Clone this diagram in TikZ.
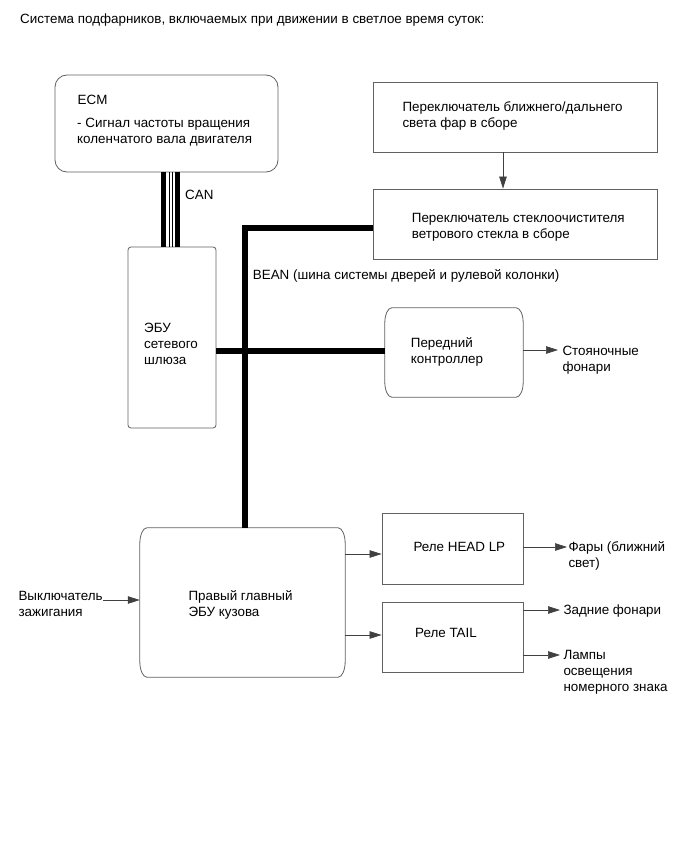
\documentclass[tikz,border=0pt]{standalone}
\usepackage{fontspec}
\setmainfont{Liberation Sans}
\usetikzlibrary{arrows.meta,calc}
\newcommand\ovalbox[3]{%
  \draw[boxline] ($(#1.north west)+(#2,0)$) -- ($(#1.north east)+(-#2,0)$)
    .. controls ($(#1.north east)+(-0.45*#2,0)$) and ($(#1.north east)+(0,0.45*#3)$) .. ($(#1.north east)+(0,#3)$)
    -- ($(#1.south east)+(0,-#3)$)
    .. controls ($(#1.south east)+(0,-0.45*#3)$) and ($(#1.south east)+(-0.45*#2,0)$) .. ($(#1.south east)+(-#2,0)$)
    -- ($(#1.south west)+(#2,0)$)
    .. controls ($(#1.south west)+(0.45*#2,0)$) and ($(#1.south west)+(0,-0.45*#3)$) .. ($(#1.south west)+(0,-#3)$)
    -- ($(#1.north west)+(0,#3)$)
    .. controls ($(#1.north west)+(0,0.45*#3)$) and ($(#1.north west)+(0.45*#2,0)$) .. cycle;}
\tikzset{
  boxline/.style={draw=black!62, line width=0.8pt},
  sbox/.style={boxline, inner sep=0pt},
  hold/.style={draw=none, inner sep=0pt},
  arr/.style={-{Triangle[length=12pt,width=7.5pt]}, line width=0.7pt, draw=black!75, fill=black},
  bus/.style={line width=5.5pt, draw=black},
  thin bus/.style={line width=0.8pt, draw=black},
  txt/.style={inner sep=0pt, anchor=base west, align=left, font=\fontsize{13.4}{16}\selectfont}
}
\begin{document}
\begin{tikzpicture}[x=1pt,y=-1pt]
\useasboundingbox[fill=white] (0,0) rectangle (692,856);

% title
\node[txt] (title) at (20,24) {Система подфарников, включаемых при движении в светлое время суток:};

% boxes
\node[sbox, rounded corners=12pt, minimum width=223pt, minimum height=97pt] (ecm) at (166.5,123.5) {};
\node[sbox, rounded corners=3pt, minimum width=88pt, minimum height=181pt] (gw) at (172,337.5) {};
\node[sbox, minimum width=284pt, minimum height=70pt] (dim) at (515,117) {};
\node[sbox, minimum width=284pt, minimum height=70pt] (wip) at (515,224) {};
\node[hold, minimum width=138pt, minimum height=89pt] (fc) at (454,352.5) {};
\node[hold, minimum width=205pt, minimum height=149pt] (ecu) at (242.5,602.5) {};
\node[sbox, minimum width=141pt, minimum height=71pt] (head) at (452.5,548.5) {};
\node[sbox, minimum width=141pt, minimum height=70pt] (tail) at (452.5,637) {};
\ovalbox{fc}{7}{15}
\ovalbox{ecu}{7}{16}

% box texts (multi-line nodes: base = last line)
\node[txt] (ecmt) at (77.5,104.5) {ECM};
\node[txt] (ecms) at (77,143.5) {- Сигнал частоты вращения\\коленчатого вала двигателя};
\node[txt] (gwt) at (144,364.5) {ЭБУ\\сетевого\\шлюза};
\node[txt] (dimt) at (402.3,127.5) {Переключатель ближнего/дальнего\\света фар в сборе};
\node[txt] (wipt) at (411.7,238.5) {Переключатель стеклоочистителя\\ветрового стекла в сборе};
\node[txt] (fct) at (410.7,363.5) {Передний\\контроллер};
\node[txt] (ecut) at (188.3,616.5) {Правый главный\\ЭБУ кузова};
\node[txt] (headt) at (413.3,551) {Реле HEAD LP};
\node[txt] (tailt) at (415,637.5) {Реле TAIL};

% outer labels
\node[txt] (can) at (185,199.5) {CAN};
\node[txt] (bean) at (252.7,279.5) {BEAN (шина системы дверей и рулевой колонки)};
\node[txt] (park) at (562.3,371.5) {Стояночные\\фонари};
\node[txt] (ign) at (18.3,616.5) {Выключатель\\зажигания};
\node[txt] (lowb) at (568.3,567) {Фары (ближний\\свет)};
\node[txt] (rear) at (563.3,614) {Задние фонари};
\node[txt] (plate) at (563.3,691) {Лампы\\освещения\\номерного знака};

% CAN bus (double line)
\draw[bus, line width=5pt] (ecm.south -| 163,0) -- (gw.north -| 163,0);
\draw[bus, line width=5pt] (ecm.south -| 177.8,0) -- (gw.north -| 177.8,0);
\draw[thin bus] (ecm.south -| 169,0) -- (gw.north -| 169,0);
\draw[thin bus] (ecm.south -| 172.8,0) -- (gw.north -| 172.8,0);

% BEAN bus
\draw[bus, line join=miter] (ecu.north -| 245,0) -- (245,228) -- (wip.west |- 0,228);
\draw[bus] (gw.east |- 0,351) -- (fc.west |- 0,351);

% arrows
\coordinate (parkin) at (558,350);
\coordinate (ignout) at (103,600);
\coordinate (lowbin) at (567,547);
\coordinate (rearin) at (560,610);
\coordinate (platein) at (560,655);
\draw[arr] (dim.south -| 503,0) -- (wip.north -| 503,0);
\draw[arr] (fc.east |- parkin) -- (parkin);
\draw[arr] (ignout) -- (ecu.west |- ignout);
\draw[arr] (ecu.east |- 0,554) -- (head.west |- 0,554);
\draw[arr] (ecu.east |- 0,635) -- (tail.west |- 0,635);
\draw[arr] (head.east |- lowbin) -- (lowbin);
\draw[arr] (tail.east |- rearin) -- (rearin);
\draw[arr] (tail.east |- platein) -- (platein);
\end{tikzpicture}
\end{document}
